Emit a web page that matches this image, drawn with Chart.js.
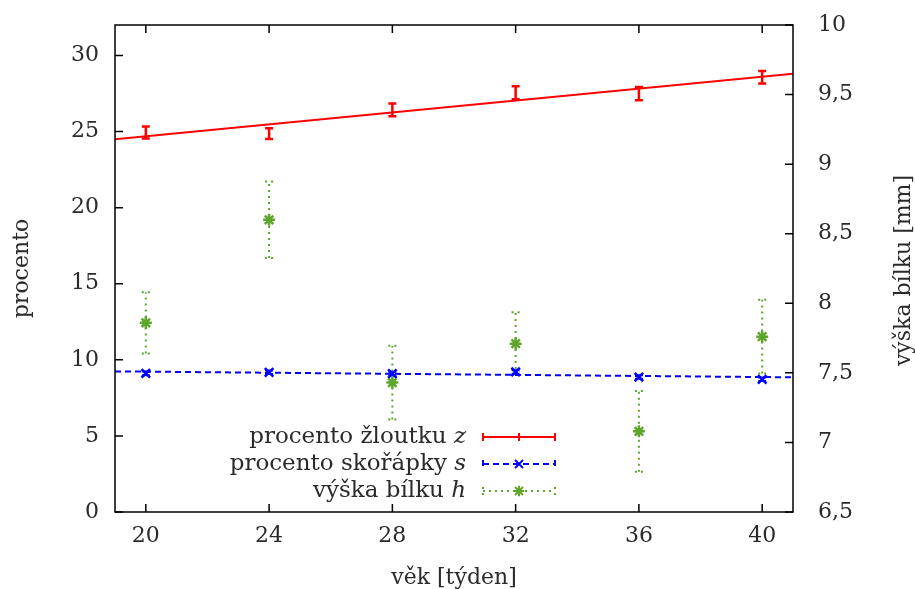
<!DOCTYPE html>
<html lang="cs">
<head>
  <meta charset="UTF-8">
  <title>Žloutek, skořápka a bílek podle věku</title>
  <script src="https://cdn.jsdelivr.net/npm/chart.js"></script>
  <style>
    body { margin: 0; background: #fff; }
    canvas { display: block; }
  </style>
</head>
<body>
  <canvas id="graf" width="915" height="589"></canvas>

  <script>
    // týdny a naměřené hodnoty
    const tydny = [20, 24, 28, 32, 36, 40];
    const zloutek = [24.94, 24.86, 26.42, 27.55, 27.49, 28.57];
    const zloutekChyba = [0.39, 0.35, 0.42, 0.43, 0.43, 0.41];
    const skorapka = [9.11, 9.18, 9.09, 9.20, 8.87, 8.72];
    const skorapkaChyba = [0.12, 0.12, 0.12, 0.12, 0.12, 0.12];
    const bilek = [7.86, 8.60, 7.43, 7.71, 7.08, 7.76];
    const bilekChyba = [0.22, 0.275, 0.265, 0.225, 0.29, 0.265];

    // proložené přímky (krajní body na okrajích grafu)
    const fitX = [19, 41];
    const fitZloutek = [24.49, 28.80];
    const fitSkorapka = [9.24, 8.85];

    const xTicks = [20, 24, 28, 32, 36, 40];
    const yTicks = [0, 5, 10, 15, 20, 25, 30];
    const y2Ticks = [6.5, 7, 7.5, 8, 8.5, 9, 9.5, 10];

    const CERVENA = '#ff0000';
    const MODRA = '#0000ff';
    const ZELENA = '#5ea52c';
    const PISMO = '"DejaVu Serif", "Liberation Serif", serif';
    const TEXT = '#2a2a2a';

    const body = (xs, ys) => xs.map((x, i) => ({ x: x, y: ys[i] }));
    const carka = v => String(v).replace('.', ',');

    const legenda = [
      { text: 'procento žloutku ', kurziva: 'z', barva: CERVENA, cary: [], bod: null },
      { text: 'procento skořápky ', kurziva: 's', barva: MODRA, cary: [6, 4], bod: 'x' },
      { text: 'výška bílku ', kurziva: 'h', barva: ZELENA, cary: [2, 4], bod: '*' }
    ];

    function znacka(ctx, typ, x, y, r) {
      ctx.beginPath();
      ctx.moveTo(x - r, y - r); ctx.lineTo(x + r, y + r);
      ctx.moveTo(x - r, y + r); ctx.lineTo(x + r, y - r);
      if (typ === '*') {
        ctx.moveTo(x - r * 1.3, y); ctx.lineTo(x + r * 1.3, y);
        ctx.moveTo(x, y - r * 1.3); ctx.lineTo(x, y + r * 1.3);
      }
      ctx.stroke();
    }

    const chybyPlugin = {
      id: 'chyby',
      beforeDatasetsDraw(chart) {
        const { ctx, scales } = chart;
        chart.data.datasets.forEach(ds => {
          if (!ds.chyby) return;
          const ys = scales[ds.yAxisID];
          ctx.save();
          ctx.strokeStyle = ds.borderColor;
          ctx.lineWidth = ds.chybaSirka || 2;
          ctx.setLineDash(ds.chybaCary || []);
          ds.data.forEach((p, j) => {
            const x = scales.x.getPixelForValue(p.x);
            const y1 = ys.getPixelForValue(p.y - ds.chyby[j]);
            const y2 = ys.getPixelForValue(p.y + ds.chyby[j]);
            ctx.beginPath();
            ctx.moveTo(x, y1); ctx.lineTo(x, y2);
            ctx.moveTo(x - 4, y1); ctx.lineTo(x + 4, y1);
            ctx.moveTo(x - 4, y2); ctx.lineTo(x + 4, y2);
            ctx.stroke();
          });
          ctx.restore();
        });
      }
    };

    const ramPlugin = {
      id: 'ram',
      afterDraw(chart) {
        const { ctx, chartArea: a, scales } = chart;
        ctx.save();
        ctx.strokeStyle = '#000';
        ctx.lineWidth = 1.5;
        ctx.strokeRect(a.left, a.top, a.width, a.height);
        ctx.beginPath();
        xTicks.forEach(v => {
          const x = scales.x.getPixelForValue(v);
          ctx.moveTo(x, a.bottom); ctx.lineTo(x, a.bottom - 8);
          ctx.moveTo(x, a.top); ctx.lineTo(x, a.top + 8);
        });
        yTicks.forEach(v => {
          const y = scales.y.getPixelForValue(v);
          ctx.moveTo(a.left, y); ctx.lineTo(a.left + 8, y);
        });
        y2Ticks.forEach(v => {
          const y = scales.y2.getPixelForValue(v);
          ctx.moveTo(a.right, y); ctx.lineTo(a.right - 8, y);
        });
        ctx.stroke();

        // popisek pravé osy
        ctx.fillStyle = TEXT;
        ctx.font = '22px ' + PISMO;
        ctx.textAlign = 'center';
        ctx.textBaseline = 'middle';
        ctx.translate(904, (a.top + a.bottom) / 2 + 2);
        ctx.rotate(-Math.PI / 2);
        ctx.fillText('výška bílku [mm]', 0, 0);
        ctx.restore();

        // legenda
        ctx.save();
        const pravy = 466, x1 = 483, x2 = 555, xm = 519;
        legenda.forEach((l, i) => {
          const y = 437 + i * 27;
          ctx.fillStyle = TEXT;
          ctx.textBaseline = 'middle';
          ctx.textAlign = 'left';
          ctx.font = 'italic 23px ' + PISMO;
          const wk = ctx.measureText(l.kurziva).width;
          ctx.fillText(l.kurziva, pravy - wk, y);
          ctx.font = '23px ' + PISMO;
          const wt = ctx.measureText(l.text).width;
          ctx.fillText(l.text, pravy - wk - wt, y);

          ctx.strokeStyle = l.barva;
          ctx.lineWidth = 2;
          ctx.setLineDash(l.cary);
          ctx.beginPath();
          ctx.moveTo(x1, y); ctx.lineTo(x2, y);
          ctx.moveTo(x1, y - 4); ctx.lineTo(x1, y + 4);
          ctx.moveTo(x2, y - 4); ctx.lineTo(x2, y + 4);
          ctx.stroke();
          ctx.setLineDash([]);
          if (l.bod) {
            znacka(ctx, l.bod, xm, y, 4);
          } else {
            ctx.beginPath();
            ctx.moveTo(xm, y - 4); ctx.lineTo(xm, y + 4);
            ctx.stroke();
          }
        });
        ctx.restore();
      }
    };

    const osaFont = { family: PISMO, size: 22 };
    const bezOkraje = s => { s.paddingTop = 0; s.paddingBottom = 0; };

    new Chart(document.getElementById('graf'), {
      type: 'scatter',
      data: {
        datasets: [
          {
            label: 'fit žloutek',
            data: body(fitX, fitZloutek),
            showLine: true, borderColor: CERVENA, borderWidth: 2,
            pointRadius: 0, yAxisID: 'y'
          },
          {
            label: 'procento žloutku z',
            data: body(tydny, zloutek),
            chyby: zloutekChyba, chybaSirka: 2.5,
            borderColor: CERVENA, pointRadius: 0, yAxisID: 'y'
          },
          {
            label: 'fit skořápka',
            data: body(fitX, fitSkorapka),
            showLine: true, borderColor: MODRA, borderWidth: 2, borderDash: [6, 4],
            pointRadius: 0, yAxisID: 'y'
          },
          {
            label: 'procento skořápky s',
            data: body(tydny, skorapka),
            chyby: skorapkaChyba,
            borderColor: MODRA, backgroundColor: MODRA, borderWidth: 2.5,
            pointStyle: 'crossRot', pointRadius: 6, yAxisID: 'y'
          },
          {
            label: 'výška bílku h',
            data: body(tydny, bilek),
            chyby: bilekChyba, chybaCary: [2, 4],
            borderColor: ZELENA, backgroundColor: ZELENA, borderWidth: 2.5,
            pointStyle: 'star', pointRadius: 6, yAxisID: 'y2'
          }
        ]
      },
      options: {
        responsive: false,
        animation: false,
        layout: { padding: { top: 25, left: 0, right: 0, bottom: 0 } },
        plugins: { legend: { display: false }, tooltip: { enabled: false } },
        scales: {
          x: {
            type: 'linear', min: 19, max: 41,
            afterBuildTicks: s => { s.ticks = xTicks.map(v => ({ value: v })); },
            afterFit: s => { s.height = 77; s.paddingLeft = 0; s.paddingRight = 0; },
            grid: { display: false, drawTicks: false },
            border: { display: false },
            ticks: { font: osaFont, color: TEXT, padding: 11, maxRotation: 0 },
            title: {
              display: true, text: 'věk [týden]', color: TEXT,
              font: { family: PISMO, size: 22, lineHeight: 1 }, padding: { top: 0, bottom: 0 }
            }
          },
          y: {
            position: 'left', min: 0, max: 32,
            afterBuildTicks: s => { s.ticks = yTicks.map(v => ({ value: v })); },
            afterFit: s => { s.width = 115; bezOkraje(s); },
            grid: { display: false, drawTicks: false },
            border: { display: false },
            ticks: { font: osaFont, color: TEXT, padding: 16 },
            title: {
              display: true, text: 'procento', color: TEXT,
              font: { family: PISMO, size: 22, lineHeight: 1 }, padding: { top: 11, bottom: 0 }
            }
          },
          y2: {
            position: 'right', min: 6.5, max: 10,
            afterBuildTicks: s => { s.ticks = y2Ticks.map(v => ({ value: v })); },
            afterFit: s => { s.width = 122; bezOkraje(s); },
            grid: { display: false, drawTicks: false },
            border: { display: false },
            ticks: { font: osaFont, color: TEXT, padding: 25, callback: v => carka(v) }
          }
        }
      },
      plugins: [chybyPlugin, ramPlugin]
    });
  </script>
</body>
</html>
